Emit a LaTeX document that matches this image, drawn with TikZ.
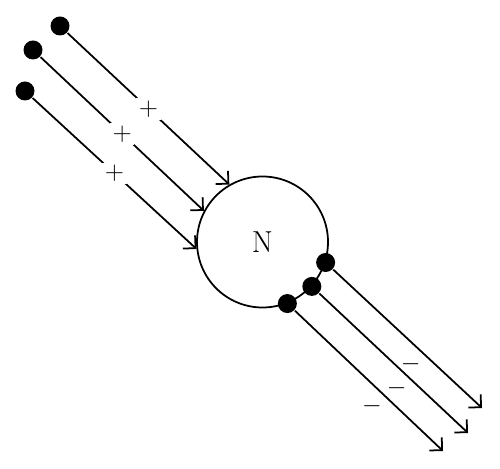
\documentclass[tikz,border=0pt]{standalone}
\usetikzlibrary{arrows.meta}

\begin{document}
\begin{tikzpicture}[->,>={Straight Barb[length=1.8mm,width=3.6mm]},line width=1pt,
    dot/.style={shape=circle,fill=black,inner sep=0pt,minimum size=3.8mm},
    possign/.style={fill=white,inner sep=1.5pt,pos=0.5,font=\Large},
    negsign/.style={pos=0.52,yshift=-0.45cm,font=\Large}]
                \useasboundingbox (0,0) rectangle (10,9.36);
                \node[shape=circle,draw=black,minimum size=2.62cm,font=\LARGE](N)at(5.25, 4.52){N};
                \node[dot](a1)at(1.2, 8.84){};
                \node[dot](a2)at(0.66, 8.36){};
                \node[dot](a3)at(0.5, 7.54){};
                \node[dot](b1)at(N.-18){};
                \node[dot](b2)at(N.-42){};
                \node[dot](b3)at(N.-68){};
                \coordinate(e1)at(9.64, 1.2);
                \coordinate(e2)at(9.36, 0.7);
                \coordinate(e3)at(8.86, 0.34);
                \path[](a1) edge node[possign]{$+$} (N.120)
                (a2) edge node[possign]{$+$} (N.152)
                (a3) edge node[possign]{$+$} (N.186);
                \path[]
                (b1) edge node[negsign]{$-$} (e1)
                (b2) edge node[negsign]{$-$} (e2)
                (b3) edge node[negsign]{$-$} (e3);
            \end{tikzpicture}
\end{document}
